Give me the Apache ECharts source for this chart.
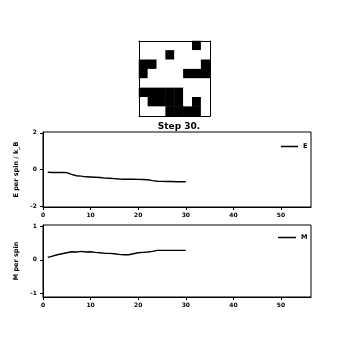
<!DOCTYPE html>
<html><head><meta charset="utf-8">
<script src="https://cdn.jsdelivr.net/npm/echarts@6/dist/echarts.min.js"></script>
<style>html,body{margin:0;padding:0;background:#fff}#c{width:345px;height:340px}</style>
</head><body><div id="c"></div>
<script>
// lattice rows (1 = black / down spin, 0 = white / up spin)
const latticeRows = [
  [0,0,0,0,0,0,1,0],
  [0,0,0,1,0,0,0,0],
  [1,1,0,0,0,0,0,1],
  [1,0,0,0,0,1,1,1],
  [0,0,0,0,0,0,0,0],
  [1,1,1,1,1,0,0,0],
  [0,1,1,1,1,0,1,0],
  [0,0,0,1,1,1,1,0]
];
const titleText = "Step 30.";
const steps = [1,2,3,4,5,6,7,8,9,10,11,12,13,14,15,16,17,18,19,20,21,22,23,24,25,26,27,28,29,30];
const energy = [-0.15,-0.16,-0.16,-0.16,-0.17,-0.27,-0.34,-0.36,-0.40,-0.41,-0.42,-0.44,-0.47,-0.48,-0.50,-0.52,-0.53,-0.53,-0.53,-0.54,-0.55,-0.56,-0.61,-0.64,-0.65,-0.66,-0.66,-0.67,-0.67,-0.67];
const magnet = [0.07,0.11,0.15,0.18,0.21,0.24,0.23,0.25,0.23,0.24,0.22,0.21,0.19,0.19,0.18,0.16,0.15,0.15,0.18,0.21,0.22,0.23,0.25,0.28,0.28,0.28,0.28,0.28,0.28,0.28];
const xTicks = [0,10,20,30,40,50];
const eTicks = [-2,0,2];
const mTicks = [-1,0,1];

const FONT = 'DejaVu Sans';
const cells = [];
latticeRows.forEach((row, r) => row.forEach((v, c) => cells.push([c, r, v ? -1 : 1])));
const cols = latticeRows[0].map((_, i) => i);
const rows = latticeRows.map((_, i) => i);

function xAxisFor(gi) {
  return {
    type: 'value', gridIndex: gi, min: 0, max: 56.3,
    axisLine: {show: true, onZero: false, lineStyle: {color: '#000', width: 1}},
    axisTick: {show: true, length: 3, customValues: xTicks, lineStyle: {color: '#000'}},
    axisLabel: {customValues: xTicks, margin: 5, fontSize: 6, fontWeight: 'bold', fontFamily: FONT, color: '#000'},
    splitLine: {show: false}
  };
}
function yAxisFor(gi, mn, mx, ticks, name) {
  return {
    type: 'value', gridIndex: gi, min: mn, max: mx,
    name: name, nameLocation: 'middle', nameRotate: 90, nameGap: 22,
    nameTextStyle: {fontSize: 6.5, fontWeight: 'bold', fontFamily: FONT, color: '#000'},
    axisLine: {show: true, onZero: false, lineStyle: {color: '#000', width: 1}},
    axisTick: {show: true, length: 3, customValues: ticks, lineStyle: {color: '#000'}},
    axisLabel: {customValues: ticks, margin: 6, fontSize: 6, fontWeight: 'bold', fontFamily: FONT, color: '#000', formatter: v => String(v)},
    splitLine: {show: false}
  };
}
function frameAxis(pos, dim) {
  return {type: 'category', gridIndex: 0, data: dim === 'x' ? cols : rows, position: pos,
    inverse: dim === 'y', z: 10,
    axisLine: {show: true, onZero: false, lineStyle: {color: '#000', width: 1}},
    axisTick: {show: false}, axisLabel: {show: false}, splitLine: {show: false}};
}

const chart = echarts.init(document.getElementById('c'), null, {renderer: 'canvas'});
chart.setOption({
  animation: false,
  backgroundColor: '#fff',
  title: {text: titleText, left: 174, top: 117, textAlign: 'center',
    textStyle: {fontSize: 9, fontFamily: FONT, fontWeight: 'bold', color: '#000'}},
  grid: [
    {left: 139, top: 41, width: 71, height: 75},
    {left: 43, top: 132, width: 268, height: 75, show: true, borderColor: '#000', borderWidth: 1},
    {left: 43, top: 225, width: 268, height: 72, show: true, borderColor: '#000', borderWidth: 1}
  ],
  xAxis: [
    frameAxis('bottom', 'x'),
    xAxisFor(1), xAxisFor(2),
    frameAxis('top', 'x')
  ],
  yAxis: [
    frameAxis('left', 'y'),
    yAxisFor(1, -2.05, 2.05, eTicks, 'E per spin / k_B'),
    yAxisFor(2, -1.1, 1.03, mTicks, 'M per spin'),
    frameAxis('right', 'y')
  ],
  visualMap: {show: false, type: 'piecewise', seriesIndex: 0, dimension: 2,
    pieces: [{lt: 0, color: '#000'}, {gte: 0, color: '#fff'}]},
  legend: [
    {data: ['E'], left: 276, top: 138, itemWidth: 17, itemHeight: 1.5, icon: 'rect',
      itemStyle: {color: '#000'}, textStyle: {fontSize: 6.5, fontWeight: 'bold', fontFamily: FONT, color: '#000'}},
    {data: ['M'], left: 273, top: 229, itemWidth: 18, itemHeight: 1.5, icon: 'rect',
      itemStyle: {color: '#000'}, textStyle: {fontSize: 6.5, fontWeight: 'bold', fontFamily: FONT, color: '#000'}}
  ],
  series: [
    {type: 'heatmap', xAxisIndex: 0, yAxisIndex: 0, data: cells, itemStyle: {borderWidth: 0}, z: 1},
    {name: 'E', type: 'line', xAxisIndex: 1, yAxisIndex: 1, data: steps.map((s, i) => [s, energy[i]]),
      showSymbol: false, symbol: 'none', lineStyle: {color: '#000', width: 1.4}, itemStyle: {color: '#000'}},
    {name: 'M', type: 'line', xAxisIndex: 2, yAxisIndex: 2, data: steps.map((s, i) => [s, magnet[i]]),
      showSymbol: false, symbol: 'none', lineStyle: {color: '#000', width: 1.4}, itemStyle: {color: '#000'}}
  ]
});
</script></body></html>
